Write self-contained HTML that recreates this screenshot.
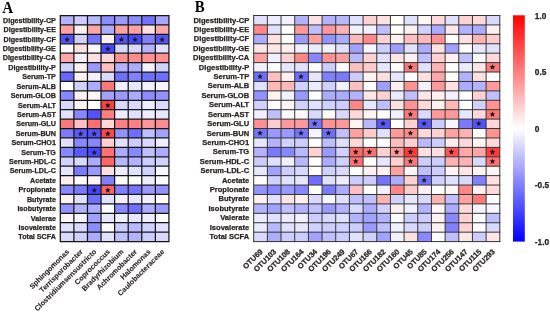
<!DOCTYPE html>
<html><head><meta charset="utf-8"><style>
html,body{margin:0;padding:0;background:#fff;}
svg{display:block;will-change:transform;font-family:"Liberation Sans",sans-serif;}
</style></head><body>
<svg width="550" height="312" viewBox="0 0 550 312">
<defs><linearGradient id="cb" x1="0" y1="0" x2="0" y2="1">
<stop offset="0" stop-color="#ff0000"/><stop offset="0.5" stop-color="#ffffff"/><stop offset="1" stop-color="#0000ff"/>
</linearGradient></defs>
<rect x="0" y="0" width="550" height="312" fill="#fff"/>
<rect x="513.0" y="15.3" width="11.8" height="226.30" fill="url(#cb)"/>
<rect x="60.30" y="15.50" width="13.60" height="9.44" fill="rgb(178,178,255)"/>
<rect x="73.88" y="15.50" width="13.60" height="9.44" fill="rgb(204,204,255)"/>
<rect x="87.46" y="15.50" width="13.60" height="9.44" fill="rgb(184,184,255)"/>
<rect x="101.04" y="15.50" width="13.60" height="9.44" fill="rgb(140,140,255)"/>
<rect x="114.62" y="15.50" width="13.60" height="9.44" fill="rgb(153,153,255)"/>
<rect x="128.20" y="15.50" width="13.60" height="9.44" fill="rgb(140,140,255)"/>
<rect x="141.78" y="15.50" width="13.60" height="9.44" fill="rgb(115,115,255)"/>
<rect x="155.36" y="15.50" width="13.60" height="9.44" fill="rgb(166,166,255)"/>
<rect x="60.30" y="24.92" width="13.60" height="9.44" fill="rgb(255,161,161)"/>
<rect x="73.88" y="24.92" width="13.60" height="9.44" fill="rgb(255,240,240)"/>
<rect x="87.46" y="24.92" width="13.60" height="9.44" fill="rgb(255,166,166)"/>
<rect x="101.04" y="24.92" width="13.60" height="9.44" fill="rgb(171,171,255)"/>
<rect x="114.62" y="24.92" width="13.60" height="9.44" fill="rgb(255,161,161)"/>
<rect x="128.20" y="24.92" width="13.60" height="9.44" fill="rgb(255,161,161)"/>
<rect x="141.78" y="24.92" width="13.60" height="9.44" fill="rgb(255,224,224)"/>
<rect x="155.36" y="24.92" width="13.60" height="9.44" fill="rgb(255,166,166)"/>
<rect x="60.30" y="34.34" width="13.60" height="9.44" fill="rgb(82,82,255)"/>
<rect x="73.88" y="34.34" width="13.60" height="9.44" fill="rgb(209,209,255)"/>
<rect x="87.46" y="34.34" width="13.60" height="9.44" fill="rgb(115,115,255)"/>
<rect x="101.04" y="34.34" width="13.60" height="9.44" fill="rgb(255,240,240)"/>
<rect x="114.62" y="34.34" width="13.60" height="9.44" fill="rgb(82,82,255)"/>
<rect x="128.20" y="34.34" width="13.60" height="9.44" fill="rgb(71,71,255)"/>
<rect x="141.78" y="34.34" width="13.60" height="9.44" fill="rgb(128,128,255)"/>
<rect x="155.36" y="34.34" width="13.60" height="9.44" fill="rgb(82,82,255)"/>
<rect x="60.30" y="43.76" width="13.60" height="9.44" fill="rgb(255,250,250)"/>
<rect x="73.88" y="43.76" width="13.60" height="9.44" fill="rgb(255,224,224)"/>
<rect x="87.46" y="43.76" width="13.60" height="9.44" fill="rgb(247,247,255)"/>
<rect x="101.04" y="43.76" width="13.60" height="9.44" fill="rgb(71,71,255)"/>
<rect x="114.62" y="43.76" width="13.60" height="9.44" fill="rgb(217,217,255)"/>
<rect x="128.20" y="43.76" width="13.60" height="9.44" fill="rgb(217,217,255)"/>
<rect x="141.78" y="43.76" width="13.60" height="9.44" fill="rgb(178,178,255)"/>
<rect x="155.36" y="43.76" width="13.60" height="9.44" fill="rgb(224,224,255)"/>
<rect x="60.30" y="53.18" width="13.60" height="9.44" fill="rgb(255,166,166)"/>
<rect x="73.88" y="53.18" width="13.60" height="9.44" fill="rgb(240,240,255)"/>
<rect x="87.46" y="53.18" width="13.60" height="9.44" fill="rgb(255,224,224)"/>
<rect x="101.04" y="53.18" width="13.60" height="9.44" fill="rgb(255,217,217)"/>
<rect x="114.62" y="53.18" width="13.60" height="9.44" fill="rgb(255,145,145)"/>
<rect x="128.20" y="53.18" width="13.60" height="9.44" fill="rgb(255,140,140)"/>
<rect x="141.78" y="53.18" width="13.60" height="9.44" fill="rgb(255,145,145)"/>
<rect x="155.36" y="53.18" width="13.60" height="9.44" fill="rgb(255,145,145)"/>
<rect x="60.30" y="62.60" width="13.60" height="9.44" fill="rgb(209,209,255)"/>
<rect x="73.88" y="62.60" width="13.60" height="9.44" fill="rgb(255,240,240)"/>
<rect x="87.46" y="62.60" width="13.60" height="9.44" fill="rgb(153,153,255)"/>
<rect x="101.04" y="62.60" width="13.60" height="9.44" fill="rgb(255,191,191)"/>
<rect x="114.62" y="62.60" width="13.60" height="9.44" fill="rgb(178,178,255)"/>
<rect x="128.20" y="62.60" width="13.60" height="9.44" fill="rgb(171,171,255)"/>
<rect x="141.78" y="62.60" width="13.60" height="9.44" fill="rgb(242,242,255)"/>
<rect x="155.36" y="62.60" width="13.60" height="9.44" fill="rgb(209,209,255)"/>
<rect x="60.30" y="72.02" width="13.60" height="9.44" fill="rgb(102,102,255)"/>
<rect x="73.88" y="72.02" width="13.60" height="9.44" fill="rgb(255,242,242)"/>
<rect x="87.46" y="72.02" width="13.60" height="9.44" fill="rgb(242,242,255)"/>
<rect x="101.04" y="72.02" width="13.60" height="9.44" fill="rgb(217,217,255)"/>
<rect x="114.62" y="72.02" width="13.60" height="9.44" fill="rgb(110,110,255)"/>
<rect x="128.20" y="72.02" width="13.60" height="9.44" fill="rgb(128,128,255)"/>
<rect x="141.78" y="72.02" width="13.60" height="9.44" fill="rgb(110,110,255)"/>
<rect x="155.36" y="72.02" width="13.60" height="9.44" fill="rgb(110,110,255)"/>
<rect x="60.30" y="81.44" width="13.60" height="9.44" fill="rgb(255,255,255)"/>
<rect x="73.88" y="81.44" width="13.60" height="9.44" fill="rgb(209,209,255)"/>
<rect x="87.46" y="81.44" width="13.60" height="9.44" fill="rgb(171,171,255)"/>
<rect x="101.04" y="81.44" width="13.60" height="9.44" fill="rgb(255,120,120)"/>
<rect x="114.62" y="81.44" width="13.60" height="9.44" fill="rgb(240,240,255)"/>
<rect x="128.20" y="81.44" width="13.60" height="9.44" fill="rgb(230,230,255)"/>
<rect x="141.78" y="81.44" width="13.60" height="9.44" fill="rgb(240,240,255)"/>
<rect x="155.36" y="81.44" width="13.60" height="9.44" fill="rgb(245,245,255)"/>
<rect x="60.30" y="90.86" width="13.60" height="9.44" fill="rgb(135,135,255)"/>
<rect x="73.88" y="90.86" width="13.60" height="9.44" fill="rgb(255,240,240)"/>
<rect x="87.46" y="90.86" width="13.60" height="9.44" fill="rgb(255,247,247)"/>
<rect x="101.04" y="90.86" width="13.60" height="9.44" fill="rgb(161,161,255)"/>
<rect x="114.62" y="90.86" width="13.60" height="9.44" fill="rgb(153,153,255)"/>
<rect x="128.20" y="90.86" width="13.60" height="9.44" fill="rgb(171,171,255)"/>
<rect x="141.78" y="90.86" width="13.60" height="9.44" fill="rgb(140,140,255)"/>
<rect x="155.36" y="90.86" width="13.60" height="9.44" fill="rgb(145,145,255)"/>
<rect x="60.30" y="100.28" width="13.60" height="9.44" fill="rgb(217,217,255)"/>
<rect x="73.88" y="100.28" width="13.60" height="9.44" fill="rgb(255,242,242)"/>
<rect x="87.46" y="100.28" width="13.60" height="9.44" fill="rgb(255,255,255)"/>
<rect x="101.04" y="100.28" width="13.60" height="9.44" fill="rgb(255,64,64)"/>
<rect x="114.62" y="100.28" width="13.60" height="9.44" fill="rgb(217,217,255)"/>
<rect x="128.20" y="100.28" width="13.60" height="9.44" fill="rgb(217,217,255)"/>
<rect x="141.78" y="100.28" width="13.60" height="9.44" fill="rgb(237,237,255)"/>
<rect x="155.36" y="100.28" width="13.60" height="9.44" fill="rgb(217,217,255)"/>
<rect x="60.30" y="109.70" width="13.60" height="9.44" fill="rgb(224,224,255)"/>
<rect x="73.88" y="109.70" width="13.60" height="9.44" fill="rgb(135,135,255)"/>
<rect x="87.46" y="109.70" width="13.60" height="9.44" fill="rgb(82,82,255)"/>
<rect x="101.04" y="109.70" width="13.60" height="9.44" fill="rgb(255,128,128)"/>
<rect x="114.62" y="109.70" width="13.60" height="9.44" fill="rgb(237,237,255)"/>
<rect x="128.20" y="109.70" width="13.60" height="9.44" fill="rgb(224,224,255)"/>
<rect x="141.78" y="109.70" width="13.60" height="9.44" fill="rgb(237,237,255)"/>
<rect x="155.36" y="109.70" width="13.60" height="9.44" fill="rgb(230,230,255)"/>
<rect x="60.30" y="119.12" width="13.60" height="9.44" fill="rgb(255,120,120)"/>
<rect x="73.88" y="119.12" width="13.60" height="9.44" fill="rgb(255,191,191)"/>
<rect x="87.46" y="119.12" width="13.60" height="9.44" fill="rgb(255,112,112)"/>
<rect x="101.04" y="119.12" width="13.60" height="9.44" fill="rgb(255,217,217)"/>
<rect x="114.62" y="119.12" width="13.60" height="9.44" fill="rgb(255,128,128)"/>
<rect x="128.20" y="119.12" width="13.60" height="9.44" fill="rgb(255,128,128)"/>
<rect x="141.78" y="119.12" width="13.60" height="9.44" fill="rgb(255,153,153)"/>
<rect x="155.36" y="119.12" width="13.60" height="9.44" fill="rgb(255,140,140)"/>
<rect x="60.30" y="128.54" width="13.60" height="9.44" fill="rgb(122,122,255)"/>
<rect x="73.88" y="128.54" width="13.60" height="9.44" fill="rgb(89,89,255)"/>
<rect x="87.46" y="128.54" width="13.60" height="9.44" fill="rgb(82,82,255)"/>
<rect x="101.04" y="128.54" width="13.60" height="9.44" fill="rgb(255,71,71)"/>
<rect x="114.62" y="128.54" width="13.60" height="9.44" fill="rgb(145,145,255)"/>
<rect x="128.20" y="128.54" width="13.60" height="9.44" fill="rgb(110,110,255)"/>
<rect x="141.78" y="128.54" width="13.60" height="9.44" fill="rgb(191,191,255)"/>
<rect x="155.36" y="128.54" width="13.60" height="9.44" fill="rgb(161,161,255)"/>
<rect x="60.30" y="137.96" width="13.60" height="9.44" fill="rgb(224,224,255)"/>
<rect x="73.88" y="137.96" width="13.60" height="9.44" fill="rgb(135,135,255)"/>
<rect x="87.46" y="137.96" width="13.60" height="9.44" fill="rgb(135,135,255)"/>
<rect x="101.04" y="137.96" width="13.60" height="9.44" fill="rgb(255,209,209)"/>
<rect x="114.62" y="137.96" width="13.60" height="9.44" fill="rgb(224,224,255)"/>
<rect x="128.20" y="137.96" width="13.60" height="9.44" fill="rgb(204,204,255)"/>
<rect x="141.78" y="137.96" width="13.60" height="9.44" fill="rgb(217,217,255)"/>
<rect x="155.36" y="137.96" width="13.60" height="9.44" fill="rgb(237,237,255)"/>
<rect x="60.30" y="147.38" width="13.60" height="9.44" fill="rgb(135,135,255)"/>
<rect x="73.88" y="147.38" width="13.60" height="9.44" fill="rgb(89,89,255)"/>
<rect x="87.46" y="147.38" width="13.60" height="9.44" fill="rgb(71,71,255)"/>
<rect x="101.04" y="147.38" width="13.60" height="9.44" fill="rgb(255,112,112)"/>
<rect x="114.62" y="147.38" width="13.60" height="9.44" fill="rgb(171,171,255)"/>
<rect x="128.20" y="147.38" width="13.60" height="9.44" fill="rgb(135,135,255)"/>
<rect x="141.78" y="147.38" width="13.60" height="9.44" fill="rgb(191,191,255)"/>
<rect x="155.36" y="147.38" width="13.60" height="9.44" fill="rgb(171,171,255)"/>
<rect x="60.30" y="156.80" width="13.60" height="9.44" fill="rgb(209,209,255)"/>
<rect x="73.88" y="156.80" width="13.60" height="9.44" fill="rgb(217,217,255)"/>
<rect x="87.46" y="156.80" width="13.60" height="9.44" fill="rgb(171,171,255)"/>
<rect x="101.04" y="156.80" width="13.60" height="9.44" fill="rgb(255,102,102)"/>
<rect x="114.62" y="156.80" width="13.60" height="9.44" fill="rgb(184,184,255)"/>
<rect x="128.20" y="156.80" width="13.60" height="9.44" fill="rgb(178,178,255)"/>
<rect x="141.78" y="156.80" width="13.60" height="9.44" fill="rgb(204,204,255)"/>
<rect x="155.36" y="156.80" width="13.60" height="9.44" fill="rgb(209,209,255)"/>
<rect x="60.30" y="166.22" width="13.60" height="9.44" fill="rgb(230,230,255)"/>
<rect x="73.88" y="166.22" width="13.60" height="9.44" fill="rgb(122,122,255)"/>
<rect x="87.46" y="166.22" width="13.60" height="9.44" fill="rgb(153,153,255)"/>
<rect x="101.04" y="166.22" width="13.60" height="9.44" fill="rgb(255,224,224)"/>
<rect x="114.62" y="166.22" width="13.60" height="9.44" fill="rgb(237,237,255)"/>
<rect x="128.20" y="166.22" width="13.60" height="9.44" fill="rgb(224,224,255)"/>
<rect x="141.78" y="166.22" width="13.60" height="9.44" fill="rgb(209,209,255)"/>
<rect x="155.36" y="166.22" width="13.60" height="9.44" fill="rgb(247,247,255)"/>
<rect x="60.30" y="175.64" width="13.60" height="9.44" fill="rgb(255,240,240)"/>
<rect x="73.88" y="175.64" width="13.60" height="9.44" fill="rgb(255,252,252)"/>
<rect x="87.46" y="175.64" width="13.60" height="9.44" fill="rgb(255,245,245)"/>
<rect x="101.04" y="175.64" width="13.60" height="9.44" fill="rgb(128,128,255)"/>
<rect x="114.62" y="175.64" width="13.60" height="9.44" fill="rgb(252,252,255)"/>
<rect x="128.20" y="175.64" width="13.60" height="9.44" fill="rgb(250,250,255)"/>
<rect x="141.78" y="175.64" width="13.60" height="9.44" fill="rgb(237,237,255)"/>
<rect x="155.36" y="175.64" width="13.60" height="9.44" fill="rgb(250,250,255)"/>
<rect x="60.30" y="185.06" width="13.60" height="9.44" fill="rgb(135,135,255)"/>
<rect x="73.88" y="185.06" width="13.60" height="9.44" fill="rgb(122,122,255)"/>
<rect x="87.46" y="185.06" width="13.60" height="9.44" fill="rgb(71,71,255)"/>
<rect x="101.04" y="185.06" width="13.60" height="9.44" fill="rgb(255,97,97)"/>
<rect x="114.62" y="185.06" width="13.60" height="9.44" fill="rgb(128,128,255)"/>
<rect x="128.20" y="185.06" width="13.60" height="9.44" fill="rgb(115,115,255)"/>
<rect x="141.78" y="185.06" width="13.60" height="9.44" fill="rgb(153,153,255)"/>
<rect x="155.36" y="185.06" width="13.60" height="9.44" fill="rgb(145,145,255)"/>
<rect x="60.30" y="194.48" width="13.60" height="9.44" fill="rgb(255,242,242)"/>
<rect x="73.88" y="194.48" width="13.60" height="9.44" fill="rgb(224,224,255)"/>
<rect x="87.46" y="194.48" width="13.60" height="9.44" fill="rgb(110,110,255)"/>
<rect x="101.04" y="194.48" width="13.60" height="9.44" fill="rgb(224,224,255)"/>
<rect x="114.62" y="194.48" width="13.60" height="9.44" fill="rgb(240,240,255)"/>
<rect x="128.20" y="194.48" width="13.60" height="9.44" fill="rgb(230,230,255)"/>
<rect x="141.78" y="194.48" width="13.60" height="9.44" fill="rgb(240,240,255)"/>
<rect x="155.36" y="194.48" width="13.60" height="9.44" fill="rgb(252,252,255)"/>
<rect x="60.30" y="203.90" width="13.60" height="9.44" fill="rgb(145,145,255)"/>
<rect x="73.88" y="203.90" width="13.60" height="9.44" fill="rgb(178,178,255)"/>
<rect x="87.46" y="203.90" width="13.60" height="9.44" fill="rgb(171,171,255)"/>
<rect x="101.04" y="203.90" width="13.60" height="9.44" fill="rgb(250,250,255)"/>
<rect x="114.62" y="203.90" width="13.60" height="9.44" fill="rgb(135,135,255)"/>
<rect x="128.20" y="203.90" width="13.60" height="9.44" fill="rgb(110,110,255)"/>
<rect x="141.78" y="203.90" width="13.60" height="9.44" fill="rgb(171,171,255)"/>
<rect x="155.36" y="203.90" width="13.60" height="9.44" fill="rgb(153,153,255)"/>
<rect x="60.30" y="213.32" width="13.60" height="9.44" fill="rgb(255,247,247)"/>
<rect x="73.88" y="213.32" width="13.60" height="9.44" fill="rgb(247,247,255)"/>
<rect x="87.46" y="213.32" width="13.60" height="9.44" fill="rgb(161,161,255)"/>
<rect x="101.04" y="213.32" width="13.60" height="9.44" fill="rgb(230,230,255)"/>
<rect x="114.62" y="213.32" width="13.60" height="9.44" fill="rgb(240,240,255)"/>
<rect x="128.20" y="213.32" width="13.60" height="9.44" fill="rgb(230,230,255)"/>
<rect x="141.78" y="213.32" width="13.60" height="9.44" fill="rgb(237,237,255)"/>
<rect x="155.36" y="213.32" width="13.60" height="9.44" fill="rgb(255,255,255)"/>
<rect x="60.30" y="222.74" width="13.60" height="9.44" fill="rgb(224,224,255)"/>
<rect x="73.88" y="222.74" width="13.60" height="9.44" fill="rgb(217,217,255)"/>
<rect x="87.46" y="222.74" width="13.60" height="9.44" fill="rgb(140,140,255)"/>
<rect x="101.04" y="222.74" width="13.60" height="9.44" fill="rgb(250,250,255)"/>
<rect x="114.62" y="222.74" width="13.60" height="9.44" fill="rgb(204,204,255)"/>
<rect x="128.20" y="222.74" width="13.60" height="9.44" fill="rgb(184,184,255)"/>
<rect x="141.78" y="222.74" width="13.60" height="9.44" fill="rgb(209,209,255)"/>
<rect x="155.36" y="222.74" width="13.60" height="9.44" fill="rgb(224,224,255)"/>
<rect x="60.30" y="232.16" width="13.60" height="9.44" fill="rgb(217,217,255)"/>
<rect x="73.88" y="232.16" width="13.60" height="9.44" fill="rgb(209,209,255)"/>
<rect x="87.46" y="232.16" width="13.60" height="9.44" fill="rgb(171,171,255)"/>
<rect x="101.04" y="232.16" width="13.60" height="9.44" fill="rgb(224,224,255)"/>
<rect x="114.62" y="232.16" width="13.60" height="9.44" fill="rgb(191,191,255)"/>
<rect x="128.20" y="232.16" width="13.60" height="9.44" fill="rgb(178,178,255)"/>
<rect x="141.78" y="232.16" width="13.60" height="9.44" fill="rgb(204,204,255)"/>
<rect x="155.36" y="232.16" width="13.60" height="9.44" fill="rgb(217,217,255)"/>
<path d="M60.30 15.50V241.58M73.88 15.50V241.58M87.46 15.50V241.58M101.04 15.50V241.58M114.62 15.50V241.58M128.20 15.50V241.58M141.78 15.50V241.58M155.36 15.50V241.58M168.94 15.50V241.58M60.30 15.50H168.94M60.30 24.92H168.94M60.30 34.34H168.94M60.30 43.76H168.94M60.30 53.18H168.94M60.30 62.60H168.94M60.30 72.02H168.94M60.30 81.44H168.94M60.30 90.86H168.94M60.30 100.28H168.94M60.30 109.70H168.94M60.30 119.12H168.94M60.30 128.54H168.94M60.30 137.96H168.94M60.30 147.38H168.94M60.30 156.80H168.94M60.30 166.22H168.94M60.30 175.64H168.94M60.30 185.06H168.94M60.30 194.48H168.94M60.30 203.90H168.94M60.30 213.32H168.94M60.30 222.74H168.94M60.30 232.16H168.94M60.30 241.58H168.94" stroke="#151515" stroke-width="1.25" fill="none" stroke-linecap="square"/>
<polygon points="67.09,36.60 67.90,38.43 69.90,38.64 68.41,39.98 68.82,41.94 67.09,40.94 65.36,41.94 65.77,39.98 64.28,38.64 66.28,38.43" fill="#1e1a22"/>
<polygon points="121.41,36.60 122.22,38.43 124.22,38.64 122.73,39.98 123.14,41.94 121.41,40.94 119.68,41.94 120.09,39.98 118.60,38.64 120.60,38.43" fill="#1e1a22"/>
<polygon points="134.99,36.60 135.80,38.43 137.80,38.64 136.31,39.98 136.72,41.94 134.99,40.94 133.26,41.94 133.67,39.98 132.18,38.64 134.18,38.43" fill="#1e1a22"/>
<polygon points="162.15,36.60 162.96,38.43 164.96,38.64 163.47,39.98 163.88,41.94 162.15,40.94 160.42,41.94 160.83,39.98 159.34,38.64 161.34,38.43" fill="#1e1a22"/>
<polygon points="107.83,46.02 108.64,47.85 110.64,48.06 109.15,49.40 109.56,51.36 107.83,50.36 106.10,51.36 106.51,49.40 105.02,48.06 107.02,47.85" fill="#1e1a22"/>
<polygon points="107.83,102.54 108.64,104.37 110.64,104.58 109.15,105.92 109.56,107.88 107.83,106.88 106.10,107.88 106.51,105.92 105.02,104.58 107.02,104.37" fill="#1e1a22"/>
<polygon points="80.67,130.80 81.48,132.63 83.48,132.84 81.99,134.18 82.40,136.14 80.67,135.14 78.94,136.14 79.35,134.18 77.86,132.84 79.86,132.63" fill="#1e1a22"/>
<polygon points="94.25,130.80 95.06,132.63 97.06,132.84 95.57,134.18 95.98,136.14 94.25,135.14 92.52,136.14 92.93,134.18 91.44,132.84 93.44,132.63" fill="#1e1a22"/>
<polygon points="107.83,130.80 108.64,132.63 110.64,132.84 109.15,134.18 109.56,136.14 107.83,135.14 106.10,136.14 106.51,134.18 105.02,132.84 107.02,132.63" fill="#1e1a22"/>
<polygon points="94.25,149.64 95.06,151.47 97.06,151.68 95.57,153.02 95.98,154.98 94.25,153.98 92.52,154.98 92.93,153.02 91.44,151.68 93.44,151.47" fill="#1e1a22"/>
<polygon points="94.25,187.32 95.06,189.15 97.06,189.36 95.57,190.70 95.98,192.66 94.25,191.66 92.52,192.66 92.93,190.70 91.44,189.36 93.44,189.15" fill="#1e1a22"/>
<polygon points="107.83,187.32 108.64,189.15 110.64,189.36 109.15,190.70 109.56,192.66 107.83,191.66 106.10,192.66 106.51,190.70 105.02,189.36 107.02,189.15" fill="#1e1a22"/>
<rect x="253.70" y="15.50" width="13.69" height="9.44" fill="rgb(224,224,255)"/>
<rect x="267.37" y="15.50" width="13.69" height="9.44" fill="rgb(237,237,255)"/>
<rect x="281.04" y="15.50" width="13.69" height="9.44" fill="rgb(240,240,255)"/>
<rect x="294.72" y="15.50" width="13.69" height="9.44" fill="rgb(178,178,255)"/>
<rect x="308.39" y="15.50" width="13.69" height="9.44" fill="rgb(255,224,224)"/>
<rect x="322.06" y="15.50" width="13.69" height="9.44" fill="rgb(178,178,255)"/>
<rect x="335.73" y="15.50" width="13.69" height="9.44" fill="rgb(184,184,255)"/>
<rect x="349.40" y="15.50" width="13.69" height="9.44" fill="rgb(224,224,255)"/>
<rect x="363.08" y="15.50" width="13.69" height="9.44" fill="rgb(255,209,209)"/>
<rect x="376.75" y="15.50" width="13.69" height="9.44" fill="rgb(255,224,224)"/>
<rect x="390.42" y="15.50" width="13.69" height="9.44" fill="rgb(255,255,255)"/>
<rect x="404.09" y="15.50" width="13.69" height="9.44" fill="rgb(224,224,255)"/>
<rect x="417.76" y="15.50" width="13.69" height="9.44" fill="rgb(255,245,245)"/>
<rect x="431.44" y="15.50" width="13.69" height="9.44" fill="rgb(255,217,217)"/>
<rect x="445.11" y="15.50" width="13.69" height="9.44" fill="rgb(224,224,255)"/>
<rect x="458.78" y="15.50" width="13.69" height="9.44" fill="rgb(255,209,209)"/>
<rect x="472.45" y="15.50" width="13.69" height="9.44" fill="rgb(255,217,217)"/>
<rect x="486.12" y="15.50" width="13.69" height="9.44" fill="rgb(217,217,255)"/>
<rect x="253.70" y="24.92" width="13.69" height="9.44" fill="rgb(255,135,135)"/>
<rect x="267.37" y="24.92" width="13.69" height="9.44" fill="rgb(224,224,255)"/>
<rect x="281.04" y="24.92" width="13.69" height="9.44" fill="rgb(255,255,255)"/>
<rect x="294.72" y="24.92" width="13.69" height="9.44" fill="rgb(255,153,153)"/>
<rect x="308.39" y="24.92" width="13.69" height="9.44" fill="rgb(191,191,255)"/>
<rect x="322.06" y="24.92" width="13.69" height="9.44" fill="rgb(255,153,153)"/>
<rect x="335.73" y="24.92" width="13.69" height="9.44" fill="rgb(255,178,178)"/>
<rect x="349.40" y="24.92" width="13.69" height="9.44" fill="rgb(240,240,255)"/>
<rect x="363.08" y="24.92" width="13.69" height="9.44" fill="rgb(240,240,255)"/>
<rect x="376.75" y="24.92" width="13.69" height="9.44" fill="rgb(191,191,255)"/>
<rect x="390.42" y="24.92" width="13.69" height="9.44" fill="rgb(255,255,255)"/>
<rect x="404.09" y="24.92" width="13.69" height="9.44" fill="rgb(255,240,240)"/>
<rect x="417.76" y="24.92" width="13.69" height="9.44" fill="rgb(209,209,255)"/>
<rect x="431.44" y="24.92" width="13.69" height="9.44" fill="rgb(171,171,255)"/>
<rect x="445.11" y="24.92" width="13.69" height="9.44" fill="rgb(255,230,230)"/>
<rect x="458.78" y="24.92" width="13.69" height="9.44" fill="rgb(178,178,255)"/>
<rect x="472.45" y="24.92" width="13.69" height="9.44" fill="rgb(171,171,255)"/>
<rect x="486.12" y="24.92" width="13.69" height="9.44" fill="rgb(255,240,240)"/>
<rect x="253.70" y="34.34" width="13.69" height="9.44" fill="rgb(171,171,255)"/>
<rect x="267.37" y="34.34" width="13.69" height="9.44" fill="rgb(255,224,224)"/>
<rect x="281.04" y="34.34" width="13.69" height="9.44" fill="rgb(255,255,255)"/>
<rect x="294.72" y="34.34" width="13.69" height="9.44" fill="rgb(153,153,255)"/>
<rect x="308.39" y="34.34" width="13.69" height="9.44" fill="rgb(255,161,161)"/>
<rect x="322.06" y="34.34" width="13.69" height="9.44" fill="rgb(145,145,255)"/>
<rect x="335.73" y="34.34" width="13.69" height="9.44" fill="rgb(171,171,255)"/>
<rect x="349.40" y="34.34" width="13.69" height="9.44" fill="rgb(255,184,184)"/>
<rect x="363.08" y="34.34" width="13.69" height="9.44" fill="rgb(255,135,135)"/>
<rect x="376.75" y="34.34" width="13.69" height="9.44" fill="rgb(255,209,209)"/>
<rect x="390.42" y="34.34" width="13.69" height="9.44" fill="rgb(255,240,240)"/>
<rect x="404.09" y="34.34" width="13.69" height="9.44" fill="rgb(255,191,191)"/>
<rect x="417.76" y="34.34" width="13.69" height="9.44" fill="rgb(255,184,184)"/>
<rect x="431.44" y="34.34" width="13.69" height="9.44" fill="rgb(255,145,145)"/>
<rect x="445.11" y="34.34" width="13.69" height="9.44" fill="rgb(255,255,255)"/>
<rect x="458.78" y="34.34" width="13.69" height="9.44" fill="rgb(255,224,224)"/>
<rect x="472.45" y="34.34" width="13.69" height="9.44" fill="rgb(255,178,178)"/>
<rect x="486.12" y="34.34" width="13.69" height="9.44" fill="rgb(255,204,204)"/>
<rect x="253.70" y="43.76" width="13.69" height="9.44" fill="rgb(255,230,230)"/>
<rect x="267.37" y="43.76" width="13.69" height="9.44" fill="rgb(255,230,230)"/>
<rect x="281.04" y="43.76" width="13.69" height="9.44" fill="rgb(255,240,240)"/>
<rect x="294.72" y="43.76" width="13.69" height="9.44" fill="rgb(240,240,255)"/>
<rect x="308.39" y="43.76" width="13.69" height="9.44" fill="rgb(235,235,255)"/>
<rect x="322.06" y="43.76" width="13.69" height="9.44" fill="rgb(242,242,255)"/>
<rect x="335.73" y="43.76" width="13.69" height="9.44" fill="rgb(224,224,255)"/>
<rect x="349.40" y="43.76" width="13.69" height="9.44" fill="rgb(161,161,255)"/>
<rect x="363.08" y="43.76" width="13.69" height="9.44" fill="rgb(245,245,255)"/>
<rect x="376.75" y="43.76" width="13.69" height="9.44" fill="rgb(204,204,255)"/>
<rect x="390.42" y="43.76" width="13.69" height="9.44" fill="rgb(158,158,255)"/>
<rect x="404.09" y="43.76" width="13.69" height="9.44" fill="rgb(224,224,255)"/>
<rect x="417.76" y="43.76" width="13.69" height="9.44" fill="rgb(171,171,255)"/>
<rect x="431.44" y="43.76" width="13.69" height="9.44" fill="rgb(255,224,224)"/>
<rect x="445.11" y="43.76" width="13.69" height="9.44" fill="rgb(161,161,255)"/>
<rect x="458.78" y="43.76" width="13.69" height="9.44" fill="rgb(255,255,255)"/>
<rect x="472.45" y="43.76" width="13.69" height="9.44" fill="rgb(230,230,255)"/>
<rect x="486.12" y="43.76" width="13.69" height="9.44" fill="rgb(224,224,255)"/>
<rect x="253.70" y="53.18" width="13.69" height="9.44" fill="rgb(255,161,161)"/>
<rect x="267.37" y="53.18" width="13.69" height="9.44" fill="rgb(240,240,255)"/>
<rect x="281.04" y="53.18" width="13.69" height="9.44" fill="rgb(255,209,209)"/>
<rect x="294.72" y="53.18" width="13.69" height="9.44" fill="rgb(255,135,135)"/>
<rect x="308.39" y="53.18" width="13.69" height="9.44" fill="rgb(135,135,255)"/>
<rect x="322.06" y="53.18" width="13.69" height="9.44" fill="rgb(255,145,145)"/>
<rect x="335.73" y="53.18" width="13.69" height="9.44" fill="rgb(255,161,161)"/>
<rect x="349.40" y="53.18" width="13.69" height="9.44" fill="rgb(184,184,255)"/>
<rect x="363.08" y="53.18" width="13.69" height="9.44" fill="rgb(255,209,209)"/>
<rect x="376.75" y="53.18" width="13.69" height="9.44" fill="rgb(224,224,255)"/>
<rect x="390.42" y="53.18" width="13.69" height="9.44" fill="rgb(255,230,230)"/>
<rect x="404.09" y="53.18" width="13.69" height="9.44" fill="rgb(255,240,240)"/>
<rect x="417.76" y="53.18" width="13.69" height="9.44" fill="rgb(191,191,255)"/>
<rect x="431.44" y="53.18" width="13.69" height="9.44" fill="rgb(255,209,209)"/>
<rect x="445.11" y="53.18" width="13.69" height="9.44" fill="rgb(255,240,240)"/>
<rect x="458.78" y="53.18" width="13.69" height="9.44" fill="rgb(191,191,255)"/>
<rect x="472.45" y="53.18" width="13.69" height="9.44" fill="rgb(252,252,255)"/>
<rect x="486.12" y="53.18" width="13.69" height="9.44" fill="rgb(255,217,217)"/>
<rect x="253.70" y="62.60" width="13.69" height="9.44" fill="rgb(240,240,255)"/>
<rect x="267.37" y="62.60" width="13.69" height="9.44" fill="rgb(255,255,255)"/>
<rect x="281.04" y="62.60" width="13.69" height="9.44" fill="rgb(230,230,255)"/>
<rect x="294.72" y="62.60" width="13.69" height="9.44" fill="rgb(224,224,255)"/>
<rect x="308.39" y="62.60" width="13.69" height="9.44" fill="rgb(250,250,255)"/>
<rect x="322.06" y="62.60" width="13.69" height="9.44" fill="rgb(204,204,255)"/>
<rect x="335.73" y="62.60" width="13.69" height="9.44" fill="rgb(255,255,255)"/>
<rect x="349.40" y="62.60" width="13.69" height="9.44" fill="rgb(255,191,191)"/>
<rect x="363.08" y="62.60" width="13.69" height="9.44" fill="rgb(255,204,204)"/>
<rect x="376.75" y="62.60" width="13.69" height="9.44" fill="rgb(230,230,255)"/>
<rect x="390.42" y="62.60" width="13.69" height="9.44" fill="rgb(255,255,255)"/>
<rect x="404.09" y="62.60" width="13.69" height="9.44" fill="rgb(255,120,120)"/>
<rect x="417.76" y="62.60" width="13.69" height="9.44" fill="rgb(224,224,255)"/>
<rect x="431.44" y="62.60" width="13.69" height="9.44" fill="rgb(255,178,178)"/>
<rect x="445.11" y="62.60" width="13.69" height="9.44" fill="rgb(255,255,255)"/>
<rect x="458.78" y="62.60" width="13.69" height="9.44" fill="rgb(235,235,255)"/>
<rect x="472.45" y="62.60" width="13.69" height="9.44" fill="rgb(255,230,230)"/>
<rect x="486.12" y="62.60" width="13.69" height="9.44" fill="rgb(255,120,120)"/>
<rect x="253.70" y="72.02" width="13.69" height="9.44" fill="rgb(110,110,255)"/>
<rect x="267.37" y="72.02" width="13.69" height="9.44" fill="rgb(255,191,191)"/>
<rect x="281.04" y="72.02" width="13.69" height="9.44" fill="rgb(255,240,240)"/>
<rect x="294.72" y="72.02" width="13.69" height="9.44" fill="rgb(110,110,255)"/>
<rect x="308.39" y="72.02" width="13.69" height="9.44" fill="rgb(230,230,255)"/>
<rect x="322.06" y="72.02" width="13.69" height="9.44" fill="rgb(128,128,255)"/>
<rect x="335.73" y="72.02" width="13.69" height="9.44" fill="rgb(122,122,255)"/>
<rect x="349.40" y="72.02" width="13.69" height="9.44" fill="rgb(204,204,255)"/>
<rect x="363.08" y="72.02" width="13.69" height="9.44" fill="rgb(255,242,242)"/>
<rect x="376.75" y="72.02" width="13.69" height="9.44" fill="rgb(255,224,224)"/>
<rect x="390.42" y="72.02" width="13.69" height="9.44" fill="rgb(230,230,255)"/>
<rect x="404.09" y="72.02" width="13.69" height="9.44" fill="rgb(255,255,255)"/>
<rect x="417.76" y="72.02" width="13.69" height="9.44" fill="rgb(255,224,224)"/>
<rect x="431.44" y="72.02" width="13.69" height="9.44" fill="rgb(255,166,166)"/>
<rect x="445.11" y="72.02" width="13.69" height="9.44" fill="rgb(255,255,255)"/>
<rect x="458.78" y="72.02" width="13.69" height="9.44" fill="rgb(178,178,255)"/>
<rect x="472.45" y="72.02" width="13.69" height="9.44" fill="rgb(255,224,224)"/>
<rect x="486.12" y="72.02" width="13.69" height="9.44" fill="rgb(255,255,255)"/>
<rect x="253.70" y="81.44" width="13.69" height="9.44" fill="rgb(224,224,255)"/>
<rect x="267.37" y="81.44" width="13.69" height="9.44" fill="rgb(255,184,184)"/>
<rect x="281.04" y="81.44" width="13.69" height="9.44" fill="rgb(255,184,184)"/>
<rect x="294.72" y="81.44" width="13.69" height="9.44" fill="rgb(209,209,255)"/>
<rect x="308.39" y="81.44" width="13.69" height="9.44" fill="rgb(235,235,255)"/>
<rect x="322.06" y="81.44" width="13.69" height="9.44" fill="rgb(209,209,255)"/>
<rect x="335.73" y="81.44" width="13.69" height="9.44" fill="rgb(240,240,255)"/>
<rect x="349.40" y="81.44" width="13.69" height="9.44" fill="rgb(255,191,191)"/>
<rect x="363.08" y="81.44" width="13.69" height="9.44" fill="rgb(250,250,255)"/>
<rect x="376.75" y="81.44" width="13.69" height="9.44" fill="rgb(158,158,255)"/>
<rect x="390.42" y="81.44" width="13.69" height="9.44" fill="rgb(255,240,240)"/>
<rect x="404.09" y="81.44" width="13.69" height="9.44" fill="rgb(255,145,145)"/>
<rect x="417.76" y="81.44" width="13.69" height="9.44" fill="rgb(242,242,255)"/>
<rect x="431.44" y="81.44" width="13.69" height="9.44" fill="rgb(255,153,153)"/>
<rect x="445.11" y="81.44" width="13.69" height="9.44" fill="rgb(255,224,224)"/>
<rect x="458.78" y="81.44" width="13.69" height="9.44" fill="rgb(171,171,255)"/>
<rect x="472.45" y="81.44" width="13.69" height="9.44" fill="rgb(178,178,255)"/>
<rect x="486.12" y="81.44" width="13.69" height="9.44" fill="rgb(255,153,153)"/>
<rect x="253.70" y="90.86" width="13.69" height="9.44" fill="rgb(145,145,255)"/>
<rect x="267.37" y="90.86" width="13.69" height="9.44" fill="rgb(255,242,242)"/>
<rect x="281.04" y="90.86" width="13.69" height="9.44" fill="rgb(242,242,255)"/>
<rect x="294.72" y="90.86" width="13.69" height="9.44" fill="rgb(153,153,255)"/>
<rect x="308.39" y="90.86" width="13.69" height="9.44" fill="rgb(255,255,255)"/>
<rect x="322.06" y="90.86" width="13.69" height="9.44" fill="rgb(171,171,255)"/>
<rect x="335.73" y="90.86" width="13.69" height="9.44" fill="rgb(171,171,255)"/>
<rect x="349.40" y="90.86" width="13.69" height="9.44" fill="rgb(178,178,255)"/>
<rect x="363.08" y="90.86" width="13.69" height="9.44" fill="rgb(255,230,230)"/>
<rect x="376.75" y="90.86" width="13.69" height="9.44" fill="rgb(255,209,209)"/>
<rect x="390.42" y="90.86" width="13.69" height="9.44" fill="rgb(235,235,255)"/>
<rect x="404.09" y="90.86" width="13.69" height="9.44" fill="rgb(191,191,255)"/>
<rect x="417.76" y="90.86" width="13.69" height="9.44" fill="rgb(255,230,230)"/>
<rect x="431.44" y="90.86" width="13.69" height="9.44" fill="rgb(255,240,240)"/>
<rect x="445.11" y="90.86" width="13.69" height="9.44" fill="rgb(240,240,255)"/>
<rect x="458.78" y="90.86" width="13.69" height="9.44" fill="rgb(255,255,255)"/>
<rect x="472.45" y="90.86" width="13.69" height="9.44" fill="rgb(255,209,209)"/>
<rect x="486.12" y="90.86" width="13.69" height="9.44" fill="rgb(191,191,255)"/>
<rect x="253.70" y="100.28" width="13.69" height="9.44" fill="rgb(209,209,255)"/>
<rect x="267.37" y="100.28" width="13.69" height="9.44" fill="rgb(255,252,252)"/>
<rect x="281.04" y="100.28" width="13.69" height="9.44" fill="rgb(255,245,245)"/>
<rect x="294.72" y="100.28" width="13.69" height="9.44" fill="rgb(209,209,255)"/>
<rect x="308.39" y="100.28" width="13.69" height="9.44" fill="rgb(224,224,255)"/>
<rect x="322.06" y="100.28" width="13.69" height="9.44" fill="rgb(209,209,255)"/>
<rect x="335.73" y="100.28" width="13.69" height="9.44" fill="rgb(204,204,255)"/>
<rect x="349.40" y="100.28" width="13.69" height="9.44" fill="rgb(255,135,135)"/>
<rect x="363.08" y="100.28" width="13.69" height="9.44" fill="rgb(230,230,255)"/>
<rect x="376.75" y="100.28" width="13.69" height="9.44" fill="rgb(191,191,255)"/>
<rect x="390.42" y="100.28" width="13.69" height="9.44" fill="rgb(255,224,224)"/>
<rect x="404.09" y="100.28" width="13.69" height="9.44" fill="rgb(255,145,145)"/>
<rect x="417.76" y="100.28" width="13.69" height="9.44" fill="rgb(255,217,217)"/>
<rect x="431.44" y="100.28" width="13.69" height="9.44" fill="rgb(255,240,240)"/>
<rect x="445.11" y="100.28" width="13.69" height="9.44" fill="rgb(255,184,184)"/>
<rect x="458.78" y="100.28" width="13.69" height="9.44" fill="rgb(255,255,255)"/>
<rect x="472.45" y="100.28" width="13.69" height="9.44" fill="rgb(209,209,255)"/>
<rect x="486.12" y="100.28" width="13.69" height="9.44" fill="rgb(255,145,145)"/>
<rect x="253.70" y="109.70" width="13.69" height="9.44" fill="rgb(240,240,255)"/>
<rect x="267.37" y="109.70" width="13.69" height="9.44" fill="rgb(191,191,255)"/>
<rect x="281.04" y="109.70" width="13.69" height="9.44" fill="rgb(252,252,255)"/>
<rect x="294.72" y="109.70" width="13.69" height="9.44" fill="rgb(255,250,250)"/>
<rect x="308.39" y="109.70" width="13.69" height="9.44" fill="rgb(217,217,255)"/>
<rect x="322.06" y="109.70" width="13.69" height="9.44" fill="rgb(250,250,255)"/>
<rect x="335.73" y="109.70" width="13.69" height="9.44" fill="rgb(217,217,255)"/>
<rect x="349.40" y="109.70" width="13.69" height="9.44" fill="rgb(255,217,217)"/>
<rect x="363.08" y="109.70" width="13.69" height="9.44" fill="rgb(255,242,242)"/>
<rect x="376.75" y="109.70" width="13.69" height="9.44" fill="rgb(255,255,255)"/>
<rect x="390.42" y="109.70" width="13.69" height="9.44" fill="rgb(240,240,255)"/>
<rect x="404.09" y="109.70" width="13.69" height="9.44" fill="rgb(255,120,120)"/>
<rect x="417.76" y="109.70" width="13.69" height="9.44" fill="rgb(217,217,255)"/>
<rect x="431.44" y="109.70" width="13.69" height="9.44" fill="rgb(255,153,153)"/>
<rect x="445.11" y="109.70" width="13.69" height="9.44" fill="rgb(255,153,153)"/>
<rect x="458.78" y="109.70" width="13.69" height="9.44" fill="rgb(230,230,255)"/>
<rect x="472.45" y="109.70" width="13.69" height="9.44" fill="rgb(255,217,217)"/>
<rect x="486.12" y="109.70" width="13.69" height="9.44" fill="rgb(255,120,120)"/>
<rect x="253.70" y="119.12" width="13.69" height="9.44" fill="rgb(255,145,145)"/>
<rect x="267.37" y="119.12" width="13.69" height="9.44" fill="rgb(255,204,204)"/>
<rect x="281.04" y="119.12" width="13.69" height="9.44" fill="rgb(255,153,153)"/>
<rect x="294.72" y="119.12" width="13.69" height="9.44" fill="rgb(255,153,153)"/>
<rect x="308.39" y="119.12" width="13.69" height="9.44" fill="rgb(115,115,255)"/>
<rect x="322.06" y="119.12" width="13.69" height="9.44" fill="rgb(255,145,145)"/>
<rect x="335.73" y="119.12" width="13.69" height="9.44" fill="rgb(255,153,153)"/>
<rect x="349.40" y="119.12" width="13.69" height="9.44" fill="rgb(255,245,245)"/>
<rect x="363.08" y="119.12" width="13.69" height="9.44" fill="rgb(184,184,255)"/>
<rect x="376.75" y="119.12" width="13.69" height="9.44" fill="rgb(89,89,255)"/>
<rect x="390.42" y="119.12" width="13.69" height="9.44" fill="rgb(255,255,255)"/>
<rect x="404.09" y="119.12" width="13.69" height="9.44" fill="rgb(255,209,209)"/>
<rect x="417.76" y="119.12" width="13.69" height="9.44" fill="rgb(89,89,255)"/>
<rect x="431.44" y="119.12" width="13.69" height="9.44" fill="rgb(204,204,255)"/>
<rect x="445.11" y="119.12" width="13.69" height="9.44" fill="rgb(245,245,255)"/>
<rect x="458.78" y="119.12" width="13.69" height="9.44" fill="rgb(122,122,255)"/>
<rect x="472.45" y="119.12" width="13.69" height="9.44" fill="rgb(82,82,255)"/>
<rect x="486.12" y="119.12" width="13.69" height="9.44" fill="rgb(255,217,217)"/>
<rect x="253.70" y="128.54" width="13.69" height="9.44" fill="rgb(115,115,255)"/>
<rect x="267.37" y="128.54" width="13.69" height="9.44" fill="rgb(153,153,255)"/>
<rect x="281.04" y="128.54" width="13.69" height="9.44" fill="rgb(153,153,255)"/>
<rect x="294.72" y="128.54" width="13.69" height="9.44" fill="rgb(115,115,255)"/>
<rect x="308.39" y="128.54" width="13.69" height="9.44" fill="rgb(245,245,255)"/>
<rect x="322.06" y="128.54" width="13.69" height="9.44" fill="rgb(110,110,255)"/>
<rect x="335.73" y="128.54" width="13.69" height="9.44" fill="rgb(191,191,255)"/>
<rect x="349.40" y="128.54" width="13.69" height="9.44" fill="rgb(255,161,161)"/>
<rect x="363.08" y="128.54" width="13.69" height="9.44" fill="rgb(255,204,204)"/>
<rect x="376.75" y="128.54" width="13.69" height="9.44" fill="rgb(224,224,255)"/>
<rect x="390.42" y="128.54" width="13.69" height="9.44" fill="rgb(255,153,153)"/>
<rect x="404.09" y="128.54" width="13.69" height="9.44" fill="rgb(255,135,135)"/>
<rect x="417.76" y="128.54" width="13.69" height="9.44" fill="rgb(255,217,217)"/>
<rect x="431.44" y="128.54" width="13.69" height="9.44" fill="rgb(255,209,209)"/>
<rect x="445.11" y="128.54" width="13.69" height="9.44" fill="rgb(255,161,161)"/>
<rect x="458.78" y="128.54" width="13.69" height="9.44" fill="rgb(255,178,178)"/>
<rect x="472.45" y="128.54" width="13.69" height="9.44" fill="rgb(255,255,255)"/>
<rect x="486.12" y="128.54" width="13.69" height="9.44" fill="rgb(255,145,145)"/>
<rect x="253.70" y="137.96" width="13.69" height="9.44" fill="rgb(230,230,255)"/>
<rect x="267.37" y="137.96" width="13.69" height="9.44" fill="rgb(178,178,255)"/>
<rect x="281.04" y="137.96" width="13.69" height="9.44" fill="rgb(209,209,255)"/>
<rect x="294.72" y="137.96" width="13.69" height="9.44" fill="rgb(204,204,255)"/>
<rect x="308.39" y="137.96" width="13.69" height="9.44" fill="rgb(255,255,255)"/>
<rect x="322.06" y="137.96" width="13.69" height="9.44" fill="rgb(191,191,255)"/>
<rect x="335.73" y="137.96" width="13.69" height="9.44" fill="rgb(224,224,255)"/>
<rect x="349.40" y="137.96" width="13.69" height="9.44" fill="rgb(255,217,217)"/>
<rect x="363.08" y="137.96" width="13.69" height="9.44" fill="rgb(255,255,255)"/>
<rect x="376.75" y="137.96" width="13.69" height="9.44" fill="rgb(255,255,255)"/>
<rect x="390.42" y="137.96" width="13.69" height="9.44" fill="rgb(255,191,191)"/>
<rect x="404.09" y="137.96" width="13.69" height="9.44" fill="rgb(255,209,209)"/>
<rect x="417.76" y="137.96" width="13.69" height="9.44" fill="rgb(184,184,255)"/>
<rect x="431.44" y="137.96" width="13.69" height="9.44" fill="rgb(204,204,255)"/>
<rect x="445.11" y="137.96" width="13.69" height="9.44" fill="rgb(255,240,240)"/>
<rect x="458.78" y="137.96" width="13.69" height="9.44" fill="rgb(255,217,217)"/>
<rect x="472.45" y="137.96" width="13.69" height="9.44" fill="rgb(255,245,245)"/>
<rect x="486.12" y="137.96" width="13.69" height="9.44" fill="rgb(255,217,217)"/>
<rect x="253.70" y="147.38" width="13.69" height="9.44" fill="rgb(178,178,255)"/>
<rect x="267.37" y="147.38" width="13.69" height="9.44" fill="rgb(122,122,255)"/>
<rect x="281.04" y="147.38" width="13.69" height="9.44" fill="rgb(135,135,255)"/>
<rect x="294.72" y="147.38" width="13.69" height="9.44" fill="rgb(184,184,255)"/>
<rect x="308.39" y="147.38" width="13.69" height="9.44" fill="rgb(255,209,209)"/>
<rect x="322.06" y="147.38" width="13.69" height="9.44" fill="rgb(153,153,255)"/>
<rect x="335.73" y="147.38" width="13.69" height="9.44" fill="rgb(209,209,255)"/>
<rect x="349.40" y="147.38" width="13.69" height="9.44" fill="rgb(255,102,102)"/>
<rect x="363.08" y="147.38" width="13.69" height="9.44" fill="rgb(255,112,112)"/>
<rect x="376.75" y="147.38" width="13.69" height="9.44" fill="rgb(255,209,209)"/>
<rect x="390.42" y="147.38" width="13.69" height="9.44" fill="rgb(255,153,153)"/>
<rect x="404.09" y="147.38" width="13.69" height="9.44" fill="rgb(255,56,56)"/>
<rect x="417.76" y="147.38" width="13.69" height="9.44" fill="rgb(255,224,224)"/>
<rect x="431.44" y="147.38" width="13.69" height="9.44" fill="rgb(255,224,224)"/>
<rect x="445.11" y="147.38" width="13.69" height="9.44" fill="rgb(255,82,82)"/>
<rect x="458.78" y="147.38" width="13.69" height="9.44" fill="rgb(255,166,166)"/>
<rect x="472.45" y="147.38" width="13.69" height="9.44" fill="rgb(255,166,166)"/>
<rect x="486.12" y="147.38" width="13.69" height="9.44" fill="rgb(255,56,56)"/>
<rect x="253.70" y="156.80" width="13.69" height="9.44" fill="rgb(204,204,255)"/>
<rect x="267.37" y="156.80" width="13.69" height="9.44" fill="rgb(224,224,255)"/>
<rect x="281.04" y="156.80" width="13.69" height="9.44" fill="rgb(240,240,255)"/>
<rect x="294.72" y="156.80" width="13.69" height="9.44" fill="rgb(184,184,255)"/>
<rect x="308.39" y="156.80" width="13.69" height="9.44" fill="rgb(255,255,255)"/>
<rect x="322.06" y="156.80" width="13.69" height="9.44" fill="rgb(171,171,255)"/>
<rect x="335.73" y="156.80" width="13.69" height="9.44" fill="rgb(209,209,255)"/>
<rect x="349.40" y="156.80" width="13.69" height="9.44" fill="rgb(255,112,112)"/>
<rect x="363.08" y="156.80" width="13.69" height="9.44" fill="rgb(255,255,255)"/>
<rect x="376.75" y="156.80" width="13.69" height="9.44" fill="rgb(230,230,255)"/>
<rect x="390.42" y="156.80" width="13.69" height="9.44" fill="rgb(255,209,209)"/>
<rect x="404.09" y="156.80" width="13.69" height="9.44" fill="rgb(255,120,120)"/>
<rect x="417.76" y="156.80" width="13.69" height="9.44" fill="rgb(204,204,255)"/>
<rect x="431.44" y="156.80" width="13.69" height="9.44" fill="rgb(204,204,255)"/>
<rect x="445.11" y="156.80" width="13.69" height="9.44" fill="rgb(255,178,178)"/>
<rect x="458.78" y="156.80" width="13.69" height="9.44" fill="rgb(255,178,178)"/>
<rect x="472.45" y="156.80" width="13.69" height="9.44" fill="rgb(217,217,255)"/>
<rect x="486.12" y="156.80" width="13.69" height="9.44" fill="rgb(255,112,112)"/>
<rect x="253.70" y="166.22" width="13.69" height="9.44" fill="rgb(230,230,255)"/>
<rect x="267.37" y="166.22" width="13.69" height="9.44" fill="rgb(161,161,255)"/>
<rect x="281.04" y="166.22" width="13.69" height="9.44" fill="rgb(204,204,255)"/>
<rect x="294.72" y="166.22" width="13.69" height="9.44" fill="rgb(217,217,255)"/>
<rect x="308.39" y="166.22" width="13.69" height="9.44" fill="rgb(255,255,255)"/>
<rect x="322.06" y="166.22" width="13.69" height="9.44" fill="rgb(209,209,255)"/>
<rect x="335.73" y="166.22" width="13.69" height="9.44" fill="rgb(217,217,255)"/>
<rect x="349.40" y="166.22" width="13.69" height="9.44" fill="rgb(255,255,255)"/>
<rect x="363.08" y="166.22" width="13.69" height="9.44" fill="rgb(255,240,240)"/>
<rect x="376.75" y="166.22" width="13.69" height="9.44" fill="rgb(255,240,240)"/>
<rect x="390.42" y="166.22" width="13.69" height="9.44" fill="rgb(255,161,161)"/>
<rect x="404.09" y="166.22" width="13.69" height="9.44" fill="rgb(255,245,245)"/>
<rect x="417.76" y="166.22" width="13.69" height="9.44" fill="rgb(191,191,255)"/>
<rect x="431.44" y="166.22" width="13.69" height="9.44" fill="rgb(204,204,255)"/>
<rect x="445.11" y="166.22" width="13.69" height="9.44" fill="rgb(255,245,245)"/>
<rect x="458.78" y="166.22" width="13.69" height="9.44" fill="rgb(255,230,230)"/>
<rect x="472.45" y="166.22" width="13.69" height="9.44" fill="rgb(255,245,245)"/>
<rect x="486.12" y="166.22" width="13.69" height="9.44" fill="rgb(255,245,245)"/>
<rect x="253.70" y="175.64" width="13.69" height="9.44" fill="rgb(255,255,255)"/>
<rect x="267.37" y="175.64" width="13.69" height="9.44" fill="rgb(209,209,255)"/>
<rect x="281.04" y="175.64" width="13.69" height="9.44" fill="rgb(224,224,255)"/>
<rect x="294.72" y="175.64" width="13.69" height="9.44" fill="rgb(230,230,255)"/>
<rect x="308.39" y="175.64" width="13.69" height="9.44" fill="rgb(110,110,255)"/>
<rect x="322.06" y="175.64" width="13.69" height="9.44" fill="rgb(224,224,255)"/>
<rect x="335.73" y="175.64" width="13.69" height="9.44" fill="rgb(237,237,255)"/>
<rect x="349.40" y="175.64" width="13.69" height="9.44" fill="rgb(204,204,255)"/>
<rect x="363.08" y="175.64" width="13.69" height="9.44" fill="rgb(204,204,255)"/>
<rect x="376.75" y="175.64" width="13.69" height="9.44" fill="rgb(115,115,255)"/>
<rect x="390.42" y="175.64" width="13.69" height="9.44" fill="rgb(171,171,255)"/>
<rect x="404.09" y="175.64" width="13.69" height="9.44" fill="rgb(255,209,209)"/>
<rect x="417.76" y="175.64" width="13.69" height="9.44" fill="rgb(115,115,255)"/>
<rect x="431.44" y="175.64" width="13.69" height="9.44" fill="rgb(209,209,255)"/>
<rect x="445.11" y="175.64" width="13.69" height="9.44" fill="rgb(224,224,255)"/>
<rect x="458.78" y="175.64" width="13.69" height="9.44" fill="rgb(217,217,255)"/>
<rect x="472.45" y="175.64" width="13.69" height="9.44" fill="rgb(128,128,255)"/>
<rect x="486.12" y="175.64" width="13.69" height="9.44" fill="rgb(255,224,224)"/>
<rect x="253.70" y="185.06" width="13.69" height="9.44" fill="rgb(148,148,255)"/>
<rect x="267.37" y="185.06" width="13.69" height="9.44" fill="rgb(135,135,255)"/>
<rect x="281.04" y="185.06" width="13.69" height="9.44" fill="rgb(153,153,255)"/>
<rect x="294.72" y="185.06" width="13.69" height="9.44" fill="rgb(135,135,255)"/>
<rect x="308.39" y="185.06" width="13.69" height="9.44" fill="rgb(255,255,255)"/>
<rect x="322.06" y="185.06" width="13.69" height="9.44" fill="rgb(122,122,255)"/>
<rect x="335.73" y="185.06" width="13.69" height="9.44" fill="rgb(171,171,255)"/>
<rect x="349.40" y="185.06" width="13.69" height="9.44" fill="rgb(255,191,191)"/>
<rect x="363.08" y="185.06" width="13.69" height="9.44" fill="rgb(255,255,255)"/>
<rect x="376.75" y="185.06" width="13.69" height="9.44" fill="rgb(240,240,255)"/>
<rect x="390.42" y="185.06" width="13.69" height="9.44" fill="rgb(255,135,135)"/>
<rect x="404.09" y="185.06" width="13.69" height="9.44" fill="rgb(255,204,204)"/>
<rect x="417.76" y="185.06" width="13.69" height="9.44" fill="rgb(255,240,240)"/>
<rect x="431.44" y="185.06" width="13.69" height="9.44" fill="rgb(255,255,255)"/>
<rect x="445.11" y="185.06" width="13.69" height="9.44" fill="rgb(255,245,245)"/>
<rect x="458.78" y="185.06" width="13.69" height="9.44" fill="rgb(255,135,135)"/>
<rect x="472.45" y="185.06" width="13.69" height="9.44" fill="rgb(255,240,240)"/>
<rect x="486.12" y="185.06" width="13.69" height="9.44" fill="rgb(255,217,217)"/>
<rect x="253.70" y="194.48" width="13.69" height="9.44" fill="rgb(255,240,240)"/>
<rect x="267.37" y="194.48" width="13.69" height="9.44" fill="rgb(224,224,255)"/>
<rect x="281.04" y="194.48" width="13.69" height="9.44" fill="rgb(255,230,230)"/>
<rect x="294.72" y="194.48" width="13.69" height="9.44" fill="rgb(255,240,240)"/>
<rect x="308.39" y="194.48" width="13.69" height="9.44" fill="rgb(217,217,255)"/>
<rect x="322.06" y="194.48" width="13.69" height="9.44" fill="rgb(247,247,255)"/>
<rect x="335.73" y="194.48" width="13.69" height="9.44" fill="rgb(224,224,255)"/>
<rect x="349.40" y="194.48" width="13.69" height="9.44" fill="rgb(191,191,255)"/>
<rect x="363.08" y="194.48" width="13.69" height="9.44" fill="rgb(191,191,255)"/>
<rect x="376.75" y="194.48" width="13.69" height="9.44" fill="rgb(255,178,178)"/>
<rect x="390.42" y="194.48" width="13.69" height="9.44" fill="rgb(209,209,255)"/>
<rect x="404.09" y="194.48" width="13.69" height="9.44" fill="rgb(230,230,255)"/>
<rect x="417.76" y="194.48" width="13.69" height="9.44" fill="rgb(217,217,255)"/>
<rect x="431.44" y="194.48" width="13.69" height="9.44" fill="rgb(255,178,178)"/>
<rect x="445.11" y="194.48" width="13.69" height="9.44" fill="rgb(191,191,255)"/>
<rect x="458.78" y="194.48" width="13.69" height="9.44" fill="rgb(255,161,161)"/>
<rect x="472.45" y="194.48" width="13.69" height="9.44" fill="rgb(255,120,120)"/>
<rect x="486.12" y="194.48" width="13.69" height="9.44" fill="rgb(255,255,255)"/>
<rect x="253.70" y="203.90" width="13.69" height="9.44" fill="rgb(178,178,255)"/>
<rect x="267.37" y="203.90" width="13.69" height="9.44" fill="rgb(161,161,255)"/>
<rect x="281.04" y="203.90" width="13.69" height="9.44" fill="rgb(191,191,255)"/>
<rect x="294.72" y="203.90" width="13.69" height="9.44" fill="rgb(178,178,255)"/>
<rect x="308.39" y="203.90" width="13.69" height="9.44" fill="rgb(191,191,255)"/>
<rect x="322.06" y="203.90" width="13.69" height="9.44" fill="rgb(153,153,255)"/>
<rect x="335.73" y="203.90" width="13.69" height="9.44" fill="rgb(178,178,255)"/>
<rect x="349.40" y="203.90" width="13.69" height="9.44" fill="rgb(217,217,255)"/>
<rect x="363.08" y="203.90" width="13.69" height="9.44" fill="rgb(171,171,255)"/>
<rect x="376.75" y="203.90" width="13.69" height="9.44" fill="rgb(209,209,255)"/>
<rect x="390.42" y="203.90" width="13.69" height="9.44" fill="rgb(255,240,240)"/>
<rect x="404.09" y="203.90" width="13.69" height="9.44" fill="rgb(240,240,255)"/>
<rect x="417.76" y="203.90" width="13.69" height="9.44" fill="rgb(178,178,255)"/>
<rect x="431.44" y="203.90" width="13.69" height="9.44" fill="rgb(255,245,245)"/>
<rect x="445.11" y="203.90" width="13.69" height="9.44" fill="rgb(171,171,255)"/>
<rect x="458.78" y="203.90" width="13.69" height="9.44" fill="rgb(255,217,217)"/>
<rect x="472.45" y="203.90" width="13.69" height="9.44" fill="rgb(245,245,255)"/>
<rect x="486.12" y="203.90" width="13.69" height="9.44" fill="rgb(247,247,255)"/>
<rect x="253.70" y="213.32" width="13.69" height="9.44" fill="rgb(235,235,255)"/>
<rect x="267.37" y="213.32" width="13.69" height="9.44" fill="rgb(224,224,255)"/>
<rect x="281.04" y="213.32" width="13.69" height="9.44" fill="rgb(235,235,255)"/>
<rect x="294.72" y="213.32" width="13.69" height="9.44" fill="rgb(240,240,255)"/>
<rect x="308.39" y="213.32" width="13.69" height="9.44" fill="rgb(204,204,255)"/>
<rect x="322.06" y="213.32" width="13.69" height="9.44" fill="rgb(217,217,255)"/>
<rect x="335.73" y="213.32" width="13.69" height="9.44" fill="rgb(224,224,255)"/>
<rect x="349.40" y="213.32" width="13.69" height="9.44" fill="rgb(178,178,255)"/>
<rect x="363.08" y="213.32" width="13.69" height="9.44" fill="rgb(161,161,255)"/>
<rect x="376.75" y="213.32" width="13.69" height="9.44" fill="rgb(178,178,255)"/>
<rect x="390.42" y="213.32" width="13.69" height="9.44" fill="rgb(252,252,255)"/>
<rect x="404.09" y="213.32" width="13.69" height="9.44" fill="rgb(204,204,255)"/>
<rect x="417.76" y="213.32" width="13.69" height="9.44" fill="rgb(204,204,255)"/>
<rect x="431.44" y="213.32" width="13.69" height="9.44" fill="rgb(255,240,240)"/>
<rect x="445.11" y="213.32" width="13.69" height="9.44" fill="rgb(135,135,255)"/>
<rect x="458.78" y="213.32" width="13.69" height="9.44" fill="rgb(255,209,209)"/>
<rect x="472.45" y="213.32" width="13.69" height="9.44" fill="rgb(252,252,255)"/>
<rect x="486.12" y="213.32" width="13.69" height="9.44" fill="rgb(191,191,255)"/>
<rect x="253.70" y="222.74" width="13.69" height="9.44" fill="rgb(235,235,255)"/>
<rect x="267.37" y="222.74" width="13.69" height="9.44" fill="rgb(184,184,255)"/>
<rect x="281.04" y="222.74" width="13.69" height="9.44" fill="rgb(224,224,255)"/>
<rect x="294.72" y="222.74" width="13.69" height="9.44" fill="rgb(230,230,255)"/>
<rect x="308.39" y="222.74" width="13.69" height="9.44" fill="rgb(209,209,255)"/>
<rect x="322.06" y="222.74" width="13.69" height="9.44" fill="rgb(204,204,255)"/>
<rect x="335.73" y="222.74" width="13.69" height="9.44" fill="rgb(209,209,255)"/>
<rect x="349.40" y="222.74" width="13.69" height="9.44" fill="rgb(204,204,255)"/>
<rect x="363.08" y="222.74" width="13.69" height="9.44" fill="rgb(153,153,255)"/>
<rect x="376.75" y="222.74" width="13.69" height="9.44" fill="rgb(191,191,255)"/>
<rect x="390.42" y="222.74" width="13.69" height="9.44" fill="rgb(240,240,255)"/>
<rect x="404.09" y="222.74" width="13.69" height="9.44" fill="rgb(217,217,255)"/>
<rect x="417.76" y="222.74" width="13.69" height="9.44" fill="rgb(204,204,255)"/>
<rect x="431.44" y="222.74" width="13.69" height="9.44" fill="rgb(255,240,240)"/>
<rect x="445.11" y="222.74" width="13.69" height="9.44" fill="rgb(128,128,255)"/>
<rect x="458.78" y="222.74" width="13.69" height="9.44" fill="rgb(255,209,209)"/>
<rect x="472.45" y="222.74" width="13.69" height="9.44" fill="rgb(252,252,255)"/>
<rect x="486.12" y="222.74" width="13.69" height="9.44" fill="rgb(217,217,255)"/>
<rect x="253.70" y="232.16" width="13.69" height="9.44" fill="rgb(217,217,255)"/>
<rect x="267.37" y="232.16" width="13.69" height="9.44" fill="rgb(171,171,255)"/>
<rect x="281.04" y="232.16" width="13.69" height="9.44" fill="rgb(204,204,255)"/>
<rect x="294.72" y="232.16" width="13.69" height="9.44" fill="rgb(204,204,255)"/>
<rect x="308.39" y="232.16" width="13.69" height="9.44" fill="rgb(161,161,255)"/>
<rect x="322.06" y="232.16" width="13.69" height="9.44" fill="rgb(191,191,255)"/>
<rect x="335.73" y="232.16" width="13.69" height="9.44" fill="rgb(204,204,255)"/>
<rect x="349.40" y="232.16" width="13.69" height="9.44" fill="rgb(224,224,255)"/>
<rect x="363.08" y="232.16" width="13.69" height="9.44" fill="rgb(209,209,255)"/>
<rect x="376.75" y="232.16" width="13.69" height="9.44" fill="rgb(161,161,255)"/>
<rect x="390.42" y="232.16" width="13.69" height="9.44" fill="rgb(240,240,255)"/>
<rect x="404.09" y="232.16" width="13.69" height="9.44" fill="rgb(255,224,224)"/>
<rect x="417.76" y="232.16" width="13.69" height="9.44" fill="rgb(135,135,255)"/>
<rect x="431.44" y="232.16" width="13.69" height="9.44" fill="rgb(252,252,255)"/>
<rect x="445.11" y="232.16" width="13.69" height="9.44" fill="rgb(191,191,255)"/>
<rect x="458.78" y="232.16" width="13.69" height="9.44" fill="rgb(255,230,230)"/>
<rect x="472.45" y="232.16" width="13.69" height="9.44" fill="rgb(204,204,255)"/>
<rect x="486.12" y="232.16" width="13.69" height="9.44" fill="rgb(255,230,230)"/>
<path d="M253.70 15.50V241.58M267.37 15.50V241.58M281.04 15.50V241.58M294.72 15.50V241.58M308.39 15.50V241.58M322.06 15.50V241.58M335.73 15.50V241.58M349.40 15.50V241.58M363.08 15.50V241.58M376.75 15.50V241.58M390.42 15.50V241.58M404.09 15.50V241.58M417.76 15.50V241.58M431.44 15.50V241.58M445.11 15.50V241.58M458.78 15.50V241.58M472.45 15.50V241.58M486.12 15.50V241.58M499.80 15.50V241.58M253.70 15.50H499.80M253.70 24.92H499.80M253.70 34.34H499.80M253.70 43.76H499.80M253.70 53.18H499.80M253.70 62.60H499.80M253.70 72.02H499.80M253.70 81.44H499.80M253.70 90.86H499.80M253.70 100.28H499.80M253.70 109.70H499.80M253.70 119.12H499.80M253.70 128.54H499.80M253.70 137.96H499.80M253.70 147.38H499.80M253.70 156.80H499.80M253.70 166.22H499.80M253.70 175.64H499.80M253.70 185.06H499.80M253.70 194.48H499.80M253.70 203.90H499.80M253.70 213.32H499.80M253.70 222.74H499.80M253.70 232.16H499.80M253.70 241.58H499.80" stroke="#333" stroke-width="1.0" fill="none" stroke-linecap="square"/>
<polygon points="410.43,64.26 411.24,66.09 413.23,66.30 411.75,67.64 412.16,69.60 410.43,68.60 408.69,69.60 409.11,67.64 407.62,66.30 409.61,66.09" fill="#1e1a22"/>
<polygon points="492.46,64.26 493.27,66.09 495.27,66.30 493.78,67.64 494.19,69.60 492.46,68.60 490.73,69.60 491.14,67.64 489.65,66.30 491.65,66.09" fill="#1e1a22"/>
<polygon points="260.04,73.68 260.85,75.51 262.84,75.72 261.35,77.06 261.77,79.02 260.04,78.02 258.30,79.02 258.72,77.06 257.23,75.72 259.22,75.51" fill="#1e1a22"/>
<polygon points="301.05,73.68 301.87,75.51 303.86,75.72 302.37,77.06 302.79,79.02 301.05,78.02 299.32,79.02 299.73,77.06 298.25,75.72 300.24,75.51" fill="#1e1a22"/>
<polygon points="410.43,111.36 411.24,113.19 413.23,113.40 411.75,114.74 412.16,116.70 410.43,115.70 408.69,116.70 409.11,114.74 407.62,113.40 409.61,113.19" fill="#1e1a22"/>
<polygon points="492.46,111.36 493.27,113.19 495.27,113.40 493.78,114.74 494.19,116.70 492.46,115.70 490.73,116.70 491.14,114.74 489.65,113.40 491.65,113.19" fill="#1e1a22"/>
<polygon points="314.72,120.78 315.54,122.61 317.53,122.82 316.04,124.16 316.46,126.12 314.72,125.12 312.99,126.12 313.41,124.16 311.92,122.82 313.91,122.61" fill="#1e1a22"/>
<polygon points="383.08,120.78 383.90,122.61 385.89,122.82 384.40,124.16 384.82,126.12 383.08,125.12 381.35,126.12 381.77,124.16 380.28,122.82 382.27,122.61" fill="#1e1a22"/>
<polygon points="424.10,120.78 424.91,122.61 426.91,122.82 425.42,124.16 425.83,126.12 424.10,125.12 422.37,126.12 422.78,124.16 421.29,122.82 423.29,122.61" fill="#1e1a22"/>
<polygon points="478.79,120.78 479.60,122.61 481.59,122.82 480.11,124.16 480.52,126.12 478.79,125.12 477.05,126.12 477.47,124.16 475.98,122.82 477.97,122.61" fill="#1e1a22"/>
<polygon points="260.04,130.20 260.85,132.03 262.84,132.24 261.35,133.58 261.77,135.54 260.04,134.54 258.30,135.54 258.72,133.58 257.23,132.24 259.22,132.03" fill="#1e1a22"/>
<polygon points="301.05,130.20 301.87,132.03 303.86,132.24 302.37,133.58 302.79,135.54 301.05,134.54 299.32,135.54 299.73,133.58 298.25,132.24 300.24,132.03" fill="#1e1a22"/>
<polygon points="328.40,130.20 329.21,132.03 331.20,132.24 329.71,133.58 330.13,135.54 328.40,134.54 326.66,135.54 327.08,133.58 325.59,132.24 327.58,132.03" fill="#1e1a22"/>
<polygon points="410.43,130.20 411.24,132.03 413.23,132.24 411.75,133.58 412.16,135.54 410.43,134.54 408.69,135.54 409.11,133.58 407.62,132.24 409.61,132.03" fill="#1e1a22"/>
<polygon points="355.74,149.04 356.55,150.87 358.55,151.08 357.06,152.42 357.47,154.38 355.74,153.38 354.01,154.38 354.42,152.42 352.93,151.08 354.93,150.87" fill="#1e1a22"/>
<polygon points="369.41,149.04 370.23,150.87 372.22,151.08 370.73,152.42 371.15,154.38 369.41,153.38 367.68,154.38 368.09,152.42 366.61,151.08 368.60,150.87" fill="#1e1a22"/>
<polygon points="396.76,149.04 397.57,150.87 399.56,151.08 398.07,152.42 398.49,154.38 396.76,153.38 395.02,154.38 395.44,152.42 393.95,151.08 395.94,150.87" fill="#1e1a22"/>
<polygon points="410.43,149.04 411.24,150.87 413.23,151.08 411.75,152.42 412.16,154.38 410.43,153.38 408.69,154.38 409.11,152.42 407.62,151.08 409.61,150.87" fill="#1e1a22"/>
<polygon points="451.44,149.04 452.26,150.87 454.25,151.08 452.76,152.42 453.18,154.38 451.44,153.38 449.71,154.38 450.13,152.42 448.64,151.08 450.63,150.87" fill="#1e1a22"/>
<polygon points="492.46,149.04 493.27,150.87 495.27,151.08 493.78,152.42 494.19,154.38 492.46,153.38 490.73,154.38 491.14,152.42 489.65,151.08 491.65,150.87" fill="#1e1a22"/>
<polygon points="355.74,158.46 356.55,160.29 358.55,160.50 357.06,161.84 357.47,163.80 355.74,162.80 354.01,163.80 354.42,161.84 352.93,160.50 354.93,160.29" fill="#1e1a22"/>
<polygon points="410.43,158.46 411.24,160.29 413.23,160.50 411.75,161.84 412.16,163.80 410.43,162.80 408.69,163.80 409.11,161.84 407.62,160.50 409.61,160.29" fill="#1e1a22"/>
<polygon points="492.46,158.46 493.27,160.29 495.27,160.50 493.78,161.84 494.19,163.80 492.46,162.80 490.73,163.80 491.14,161.84 489.65,160.50 491.65,160.29" fill="#1e1a22"/>
<polygon points="424.10,177.30 424.91,179.13 426.91,179.34 425.42,180.68 425.83,182.64 424.10,181.64 422.37,182.64 422.78,180.68 421.29,179.34 423.29,179.13" fill="#1e1a22"/>
<g fill="#2a2323" stroke="#2a2323" stroke-width="0.25" font-weight="bold">
<text x="55.9" y="22.77" font-size="7.15" text-anchor="end">Digestibility-CP</text>
<text x="55.9" y="32.19" font-size="7.15" text-anchor="end">Digestibility-EE</text>
<text x="55.9" y="41.61" font-size="7.15" text-anchor="end">Digestibility-CF</text>
<text x="55.9" y="51.03" font-size="7.15" text-anchor="end">Digestibility-GE</text>
<text x="55.9" y="60.45" font-size="7.15" text-anchor="end">Digestibility-CA</text>
<text x="55.9" y="69.87" font-size="7.15" text-anchor="end">Digestibility-P</text>
<text x="55.9" y="79.29" font-size="7.15" text-anchor="end">Serum-TP</text>
<text x="55.9" y="88.71" font-size="7.15" text-anchor="end">Serum-ALB</text>
<text x="55.9" y="98.13" font-size="7.15" text-anchor="end">Serum-GLOB</text>
<text x="55.9" y="107.55" font-size="7.15" text-anchor="end">Serum-ALT</text>
<text x="55.9" y="116.97" font-size="7.15" text-anchor="end">Serum-AST</text>
<text x="55.9" y="126.39" font-size="7.15" text-anchor="end">Serum-GLU</text>
<text x="55.9" y="135.81" font-size="7.15" text-anchor="end">Serum-BUN</text>
<text x="55.9" y="145.23" font-size="7.15" text-anchor="end">Serum-CHO1</text>
<text x="55.9" y="154.65" font-size="7.15" text-anchor="end">Serum-TG</text>
<text x="55.9" y="164.07" font-size="7.15" text-anchor="end">Serum-HDL-C</text>
<text x="55.9" y="173.49" font-size="7.15" text-anchor="end">Serum-LDL-C</text>
<text x="55.9" y="182.91" font-size="7.15" text-anchor="end">Acetate</text>
<text x="55.9" y="192.33" font-size="7.15" text-anchor="end">Propionate</text>
<text x="55.9" y="201.75" font-size="7.15" text-anchor="end">Butyrate</text>
<text x="55.9" y="211.17" font-size="7.15" text-anchor="end">Isobutyrate</text>
<text x="55.9" y="220.59" font-size="7.15" text-anchor="end">Valerae</text>
<text x="55.9" y="230.01" font-size="7.15" text-anchor="end">Isovalerate</text>
<text x="55.9" y="239.43" font-size="7.15" text-anchor="end">Total SCFA</text>
<text x="249.2" y="22.51" font-size="7.55" text-anchor="end">Digestibility-CP</text>
<text x="249.2" y="31.93" font-size="7.55" text-anchor="end">Digestibility-EE</text>
<text x="249.2" y="41.35" font-size="7.55" text-anchor="end">Digestibility-CF</text>
<text x="249.2" y="50.77" font-size="7.55" text-anchor="end">Digestibility-GE</text>
<text x="249.2" y="60.19" font-size="7.55" text-anchor="end">Digestibility-CA</text>
<text x="249.2" y="69.61" font-size="7.55" text-anchor="end">Digestibility-P</text>
<text x="249.2" y="79.03" font-size="7.55" text-anchor="end">Serum-TP</text>
<text x="249.2" y="88.45" font-size="7.55" text-anchor="end">Serum-ALB</text>
<text x="249.2" y="97.87" font-size="7.55" text-anchor="end">Serum-GLOB</text>
<text x="249.2" y="107.29" font-size="7.55" text-anchor="end">Serum-ALT</text>
<text x="249.2" y="116.71" font-size="7.55" text-anchor="end">Serum-AST</text>
<text x="249.2" y="126.13" font-size="7.55" text-anchor="end">Serum-GLU</text>
<text x="249.2" y="135.55" font-size="7.55" text-anchor="end">Serum-BUN</text>
<text x="249.2" y="144.97" font-size="7.55" text-anchor="end">Serum-CHO1</text>
<text x="249.2" y="154.39" font-size="7.55" text-anchor="end">Serum-TG</text>
<text x="249.2" y="163.81" font-size="7.55" text-anchor="end">Serum-HDL-C</text>
<text x="249.2" y="173.23" font-size="7.55" text-anchor="end">Serum-LDL-C</text>
<text x="249.2" y="182.65" font-size="7.55" text-anchor="end">Acetate</text>
<text x="249.2" y="192.07" font-size="7.55" text-anchor="end">Propionate</text>
<text x="249.2" y="201.49" font-size="7.55" text-anchor="end">Butyrate</text>
<text x="249.2" y="210.91" font-size="7.55" text-anchor="end">Isobutyrate</text>
<text x="249.2" y="220.33" font-size="7.55" text-anchor="end">Valerate</text>
<text x="249.2" y="229.75" font-size="7.55" text-anchor="end">Isovalerate</text>
<text x="249.2" y="239.17" font-size="7.55" text-anchor="end">Total SCFA</text>
<g stroke-width="0.1"><text transform="translate(69.69,252.18) rotate(-45)" font-size="7.3" text-anchor="end">Sphingomonas</text>
<text transform="translate(83.27,252.18) rotate(-45)" font-size="7.3" text-anchor="end">Terrisporobacter</text>
<text transform="translate(96.85,252.18) rotate(-45)" font-size="7.3" text-anchor="end">Clostridiumsensustricto</text>
<text transform="translate(110.43,252.18) rotate(-45)" font-size="7.3" text-anchor="end">Coprococcus</text>
<text transform="translate(124.01,252.18) rotate(-45)" font-size="7.3" text-anchor="end">Bradyrhizobium</text>
<text transform="translate(137.59,252.18) rotate(-45)" font-size="7.3" text-anchor="end">Achromobacter</text>
<text transform="translate(151.17,252.18) rotate(-45)" font-size="7.3" text-anchor="end">Halomonas</text>
<text transform="translate(164.75,252.18) rotate(-45)" font-size="7.3" text-anchor="end">Caulobacteraceae</text></g>
<text transform="translate(263.14,252.18) rotate(-45)" font-size="7.55" text-anchor="end">OTU69</text>
<text transform="translate(276.81,252.18) rotate(-45)" font-size="7.55" text-anchor="end">OTU103</text>
<text transform="translate(290.48,252.18) rotate(-45)" font-size="7.55" text-anchor="end">OTU108</text>
<text transform="translate(304.15,252.18) rotate(-45)" font-size="7.55" text-anchor="end">OTU164</text>
<text transform="translate(317.82,252.18) rotate(-45)" font-size="7.55" text-anchor="end">OTU34</text>
<text transform="translate(331.50,252.18) rotate(-45)" font-size="7.55" text-anchor="end">OTU196</text>
<text transform="translate(345.17,252.18) rotate(-45)" font-size="7.55" text-anchor="end">OTU249</text>
<text transform="translate(358.84,252.18) rotate(-45)" font-size="7.55" text-anchor="end">OTU67</text>
<text transform="translate(372.51,252.18) rotate(-45)" font-size="7.55" text-anchor="end">OTU166</text>
<text transform="translate(386.18,252.18) rotate(-45)" font-size="7.55" text-anchor="end">OTU182</text>
<text transform="translate(399.86,252.18) rotate(-45)" font-size="7.55" text-anchor="end">OTU160</text>
<text transform="translate(413.53,252.18) rotate(-45)" font-size="7.55" text-anchor="end">OTU45</text>
<text transform="translate(427.20,252.18) rotate(-45)" font-size="7.55" text-anchor="end">OTU85</text>
<text transform="translate(440.87,252.18) rotate(-45)" font-size="7.55" text-anchor="end">OTU174</text>
<text transform="translate(454.54,252.18) rotate(-45)" font-size="7.55" text-anchor="end">OTU256</text>
<text transform="translate(468.22,252.18) rotate(-45)" font-size="7.55" text-anchor="end">OTU147</text>
<text transform="translate(481.89,252.18) rotate(-45)" font-size="7.55" text-anchor="end">OTU115</text>
<text transform="translate(495.56,252.18) rotate(-45)" font-size="7.55" text-anchor="end">OTU293</text>
<text x="534.8" y="18.67" font-size="8.3">1.0</text>
<text x="534.8" y="75.25" font-size="8.3">0.5</text>
<text x="534.8" y="131.82" font-size="8.3">0</text>
<text x="534.8" y="188.40" font-size="8.3">-0.5</text>
<text x="534.8" y="244.97" font-size="8.3">-1.0</text>
</g>
<text transform="translate(2.3,12.55) scale(0.95,1)" font-family="Liberation Serif" font-weight="bold" font-size="16" fill="#000">A</text>
<text transform="translate(194.85,11.8) scale(0.93,1)" font-family="Liberation Serif" font-weight="bold" font-size="16" fill="#000">B</text>
</svg>
</body></html>
